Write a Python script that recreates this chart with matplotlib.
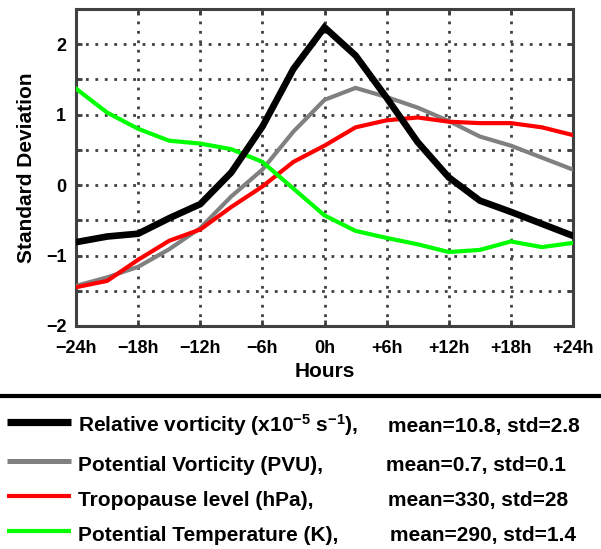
import matplotlib
matplotlib.use("Agg")
import matplotlib.pyplot as plt
from matplotlib.lines import Line2D

plt.rcParams['font.family'] = ['Liberation Sans', 'DejaVu Sans']
plt.rcParams['font.weight'] = 'bold'
plt.rcParams['mathtext.fontset'] = 'custom'
plt.rcParams['mathtext.rm'] = 'Liberation Sans:bold'
plt.rcParams['mathtext.it'] = 'Liberation Sans:bold'
plt.rcParams['mathtext.bf'] = 'Liberation Sans:bold'
plt.rcParams['mathtext.default'] = 'rm'

# ---- data ----
hours = [-24, -21, -18, -15, -12, -9, -6, -3, 0, 3, 6, 9, 12, 15, 18, 21, 24]
rel_vort = [-0.81, -0.73, -0.69, -0.47, -0.27, 0.18, 0.83, 1.65, 2.24, 1.84,
            1.24, 0.61, 0.11, -0.22, -0.38, -0.55, -0.72]
pot_vort = [-1.43, -1.31, -1.16, -0.91, -0.61, -0.16, 0.22, 0.76, 1.21, 1.38,
            1.25, 1.10, 0.91, 0.69, 0.56, 0.39, 0.22]
trop_lev = [-1.45, -1.36, -1.06, -0.79, -0.63, -0.31, -0.02, 0.33, 0.56, 0.82,
            0.92, 0.96, 0.90, 0.88, 0.88, 0.82, 0.71]
pot_temp = [1.37, 1.03, 0.80, 0.63, 0.59, 0.51, 0.33, -0.05, -0.43, -0.65,
            -0.75, -0.84, -0.95, -0.92, -0.80, -0.88, -0.82]

xticks = [-24, -18, -12, -6, 0, 6, 12, 18, 24]
xticklabels = ['\u221224h', '\u221218h', '\u221212h', '\u22126h', '0h',
               '+6h', '+12h', '+18h', '+24h']
yticks = [-2, -1.5, -1, -0.5, 0, 0.5, 1, 1.5, 2, 2.5]
yticklabels = ['\u22122', '', '\u22121', '', '0', '', '1', '', '2', '']

legend_names = [r'Relative vorticity (x10$^{\mathregular{-5}}$ s$^{\mathregular{-1}}$),',
                'Potential Vorticity (PVU),',
                'Tropopause level (hPa),',
                'Potential Temperature (K),']
legend_stats = ['mean=10.8, std=2.8', 'mean=0.7, std=0.1',
                'mean=330, std=28', 'mean=290, std=1.4']
colors = ['#000000', '#808080', '#ff0000', '#00ff00']
widths = [4.8, 3.0, 3.0, 3.0]
leg_widths = [5.2, 3.6, 3.0, 3.0]
series = [rel_vort, pot_vort, trop_lev, pot_temp]

W, H = 601, 549
fig = plt.figure(figsize=(W / 100, H / 100), dpi=100)
ax = fig.add_axes([76 / W, 1 - 326 / H, (573 - 76) / W, (326 - 9) / H])

order = [1, 2, 3, 0]
for i in order:
    ax.plot(hours, series[i], color=colors[i], lw=widths[i],
            solid_joinstyle='miter', zorder=3 + (i == 0))

ax.set_xlim(-24, 24)
ax.set_ylim(-2, 2.5)
ax.set_xticks(xticks)
ax.set_xticklabels(xticklabels)
ax.set_yticks(yticks)
ax.set_yticklabels(yticklabels)
ax.grid(True, color='#404040', linestyle=(0, (1, 2.4)), linewidth=2.0)
ax.tick_params(direction='in', length=4, width=2, color='#404040',
               top=True, right=True, labelsize=13, pad=7)
ax.tick_params(axis='x', pad=10)
for lab in ax.get_xticklabels() + ax.get_yticklabels():
    lab.set_fontweight('bold')
for s in ax.spines.values():
    s.set_color('#404040')
    s.set_linewidth(2.2)

ax.set_xlabel('Hours', fontsize=15, fontweight='bold', labelpad=4)
ax.set_ylabel('Standard Deviation', fontsize=15, fontweight='bold', labelpad=7)

# separator
fig.add_artist(Line2D([0, 1], [1 - 396 / H, 1 - 396 / H], color='black',
                      lw=3.0, transform=fig.transFigure))

rows = [422, 461, 496, 531]
stat_x = [388, 386, 388, 390]
for i in range(4):
    yl = 1 - rows[i] / H
    fig.add_artist(Line2D([7 / W, 71 / W], [yl, yl], color=colors[i],
                          lw=leg_widths[i], transform=fig.transFigure,
                          solid_capstyle='butt'))
    yb = 1 - (rows[i] + 10) / H
    fig.text(78 / W, yb, legend_names[i], fontsize=15, fontweight='bold',
             va='baseline', ha='left')
    fig.text(stat_x[i] / W, yb, legend_stats[i], fontsize=15,
             fontweight='bold', va='baseline', ha='left')

fig.savefig('out.png', dpi=100)
